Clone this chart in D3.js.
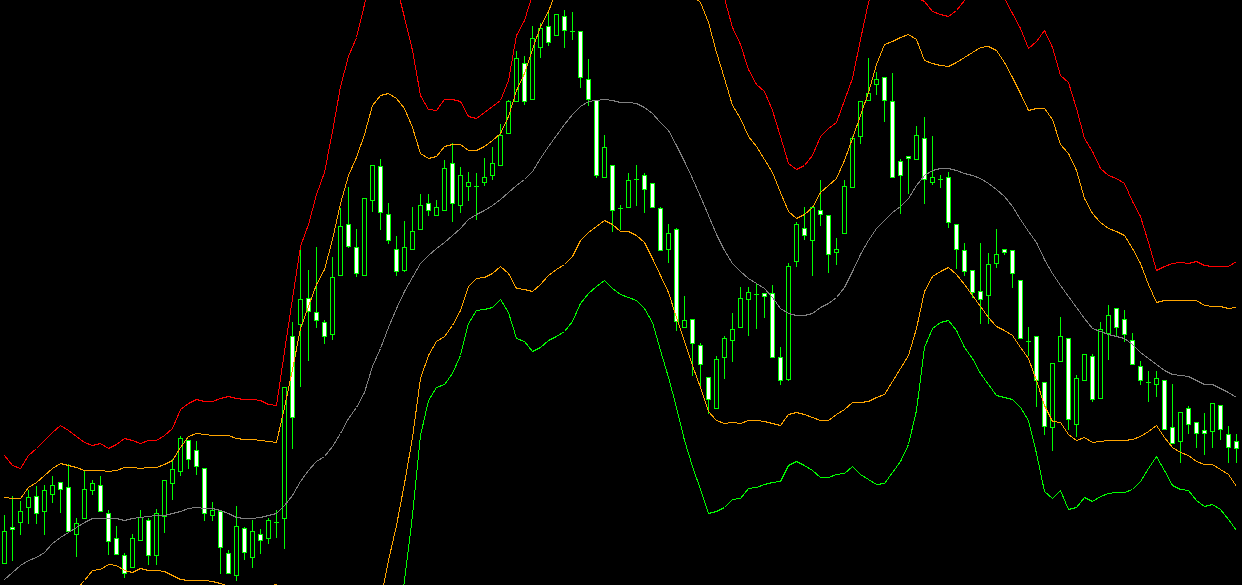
<!DOCTYPE html>
<html>
<head>
<meta charset="utf-8">
<script src="https://cdn.jsdelivr.net/npm/d3@7"></script>
<style>
  html, body { margin: 0; padding: 0; background: #000; overflow: hidden; }
</style>
</head>
<body>
<div id="chart"></div>
<script>
// price in points, one entry per bar (oldest first)
const open = [22,58,63,78,89,74,91,103,98,51, 67,95,100,72,47,30,18,45,65,30,
  69,102,114,145,135,117,70,74,32,10, 57,28,51,47,63,67,249,261,287,273,
  263,251,310,361,338,310,385,419,371,336, 315,336,356,382,370,375,422,380,399,399,
  403,410,420,452,484,522,486,538,559,550, 569,554,554,506,485,408,420,377,378,406,
  410,402,377,336,356,258,266,240,208,177, 228,245,258,286,291,292,292,228,206,324,
  357,345,375,370,333,352,398,449,485,501, 508,484,424,429,426,447,403,406,408,361,
  335,315,294,290,322,336,335,305,244,249, 203,158,224,247,161,205,229,187,252,277,
  266,245,219,203,201,205,158,144,177,163, 155,154,180,151,144];
const high = [70,89,84,95,99,100,109,103,121,67, 114,105,109,75,59,32,51,75,67,76,
  105,126,149,145,144,117,83,74,35,79, 58,65,56,67,75,198,263,336,315,338,
  265,328,377,398,356,387,420,426,382,349, 364,378,391,391,385,425,442,418,413,412,
  427,438,461,485,534,529,559,562,573,571, 575,573,554,526,485,450,420,380,412,420,
  412,402,378,361,357,289,266,242,208,229, 249,272,298,298,301,292,300,238,322,363,
  378,378,405,370,347,405,449,484,527,513, 508,512,426,429,459,468,449,410,413,361,
  342,315,342,332,356,336,335,305,258,249, 203,222,268,247,210,231,231,263,280,277,
  275,252,224,214,214,205,201,173,179,163, 172,182,180,159,151];
const low = [22,25,51,62,62,51,83,73,53,29, 67,91,74,31,31,8,18,45,21,21,
  53,86,110,117,111,65,65,12,12,5, 26,18,32,42,48,37,137,199,225,258,
  242,246,310,338,309,310,374,356,342,310, 314,336,356,370,370,375,364,373,385,366,
  400,406,420,452,484,481,486,528,540,550, 538,546,498,480,408,408,354,356,378,380,
  373,378,335,323,255,258,210,200,172,177, 207,224,258,250,257,268,228,201,205,319,
  346,310,360,313,321,352,398,442,485,491, 464,408,372,392,426,382,401,398,358,317,
  310,288,262,262,318,331,298,247,230,179, 151,135,224,156,149,205,184,187,226,249,
  244,221,201,184,189,156,142,123,152,138, 131,138,146,123,123];
const close = [54,56,74,88,72,95,100,96,54,62, 96,102,74,44,31,12,47,68,30,72,
  105,116,147,126,119,72,75,38,12,59, 33,54,45,65,63,198,168,286,274,265,
  249,308,359,339,312,387,420,373,345,314, 338,354,380,375,378,417,382,410,403,399,
  408,422,450,484,527,484,547,557,543,571, 555,554,508,486,410,438,375,377,405,406,
  396,378,335,352,264,265,242,221,186,226, 247,256,287,293,291,289,228,205,319,361,
  350,378,371,331,336,399,447,484,492,506, 485,408,410,427,450,406,408,406,363,336,
  314,293,286,321,331,333,312,247,244,205, 159,222,249,166,207,231,186,256,270,258,
  251,221,205,203,207,156,142,173,161,152, 152,182,156,138,137];

// envelope lines, same bars
const upperOuter = [130,120,117,130,137,145,153,160,155,149, 143,140,142,137,141,147,145,142,145,145,
  150,157,176,182,186,184,184,187,189,187, 186,186,185,181,180,234,287,339,361,391,
  413,454,499,529,548,581,615,635,625,600, 568,535,490,476,475,486,486,484,469,467,
  473,479,485,505,550,565,591,615,635,655, 670,680,685,685,680,675,670,665,660,655,
  650,645,640,635,630,625,617,609,601,593, 587,558,541,516,501,494,475,449,422,416,
  420,430,449,457,463,485,507,546,583,610, 625,620,605,593,588,584,574,571,569,575,
  585,597,603,600,593,587,572,557,537,544, 555,538,510,503,477,447,434,417,410,407,
  402,384,369,343,315,319,322,323,322,324, 320,319,319,319,324];
const upperInner = [88,87,87,98,103,110,117,122,120,118, 115,115,115,114,115,118,118,117,118,118,
  121,125,138,149,152,151,150,150,150,147, 146,146,145,144,143,178,216,257,279,301,
  316,346,382,410,428,451,480,490,492,487, 477,458,432,427,429,439,441,441,435,435,
  439,445,452,469,495,512,536,559,574,595, 610,620,625,627,625,623,620,617,615,613,
  610,607,605,603,600,595,590,583,563,533, 507,480,467,449,439,426,413,393,374,367,
  371,378,393,400,407,425,447,470,493,521, 541,544,548,551,546,525,522,520,519,523,
  528,533,538,539,535,523,508,492,475,477, 477,466,441,432,415,387,372,363,357,354,
  350,337,322,301,283,285,285,285,285,285, 280,279,279,277,278];
const middle = [6,13,20,25,28,33,42,48,53,58, 63,67,67,67,67,65,67,68,69,70,
  70,72,74,77,78,77,77,75,72,68, 67,67,68,70,72,80,90,104,115,124,
  129,139,152,167,178,193,219,237,258,277, 294,308,322,330,337,343,350,357,366,371,
  375,380,386,393,400,406,414,427,439,450, 461,471,479,484,485,486,485,483,483,482,
  478,472,463,455,440,424,407,389,370,351, 335,322,314,307,302,297,288,277,272,270,
  270,272,278,282,288,298,314,331,345,357, 365,373,379,387,400,410,415,417,417,415,
  412,410,407,402,396,389,379,366,354,343, 326,312,300,289,278,267,257,254,251,249,
  247,241,233,227,221,215,211,210,209,205, 201,201,197,193,188];
const lowerInner = [-30,-27,-23,-18,-15,-13,-11,-9,-7,-4, 5,15,16,21,20,15,13,17,15,15,
  14,10,6,5,5,5,4,2,-1,-3, -5,-5,-3,-1,1,-25,-55,-85,-105,-120,
  -130,-140,-145,-140,-125,-105,-65,-15,25,60, 102,148,207,230,244,249,260,275,299,307,
  308,312,319,312,297,296,294,301,310,316, 321,329,345,353,359,365,361,354,354,350,
  343,327,310,293,268,244,220,198,174,165, 162,163,162,165,165,164,162,160,171,173,
  171,168,165,165,171,176,183,183,184,188, 191,204,217,230,257,294,309,314,318,311,
  301,290,279,268,259,255,250,238,227,205, 180,164,163,151,145,148,143,144,145,145,
  145,146,149,154,160,148,138,133,130,124, 121,121,116,111,99];
const lowerOuter = [-72,-70,-66,-52,-45,-42,-38,-33,-32,-33, -23,-15,-12,-2,-6,-14,-14,-12,-12,-12,
  -15,-22,-32,-35,-29,-28,-30,-35,-40,-43, -45,-45,-43,-38,-36,-80,-125,-165,-190,-210,
  -225,-250,-265,-260,-245,-235,-200,-160,-105,-55, 5,70,150,185,198,201,212,230,262,275,
  276,278,286,273,247,244,234,238,245,249, 254,264,282,292,299,305,297,291,288,285,
  277,263,235,208,178,145,119,96,72,74, 78,86,87,97,98,101,103,104,120,124,
  120,115,108,108,111,112,119,111,106,101, 102,113,124,141,175,238,257,263,265,255,
  238,227,212,201,190,188,186,178,165,132, 94,87,95,76,78,88,84,89,92,93,
  93,96,104,117,129,115,100,96,95,85, 79,81,76,66,55];

const width = 1242;
const height = 585;

const x = d3.scaleLinear().domain([0, open.length - 1]).range([4, 4 + 8 * (open.length - 1)]);
const y = d3.scaleLinear().domain([0, 585]).range([height, 0]);
const px = v => Math.round(v) + 0.5;

const svg = d3.select("#chart")
  .append("svg")
  .attr("width", width)
  .attr("height", height)
  .style("display", "block")
  .style("background", "#000");

const bars = open.map((o, i) => ({ i, o, h: high[i], l: low[i], c: close[i] }));

// ---- candles ----
const g = svg.append("g").attr("shape-rendering", "crispEdges");

g.selectAll("line.wick")
  .data(bars)
  .join("line")
  .attr("class", "wick")
  .attr("x1", d => px(x(d.i)))
  .attr("x2", d => px(x(d.i)))
  .attr("y1", d => Math.round(y(d.h)))
  .attr("y2", d => Math.round(y(d.l)) + 1)
  .attr("stroke", "#00ff00")
  .attr("stroke-width", 1);

g.selectAll("rect.body")
  .data(bars.filter(d => d.o !== d.c))
  .join("rect")
  .attr("class", "body")
  .attr("x", d => Math.round(x(d.i)) - 1.5)
  .attr("width", 4)
  .attr("y", d => px(y(Math.max(d.o, d.c))))
  .attr("height", d => Math.round(y(Math.min(d.o, d.c))) - Math.round(y(Math.max(d.o, d.c))))
  .attr("fill", d => d.c < d.o ? "#ffffff" : "#000000")
  .attr("stroke", "#00ff00")
  .attr("stroke-width", 1);

g.selectAll("line.doji")
  .data(bars.filter(d => d.o === d.c))
  .join("line")
  .attr("class", "doji")
  .attr("x1", d => Math.round(x(d.i)) - 2)
  .attr("x2", d => Math.round(x(d.i)) + 3)
  .attr("y1", d => px(y(d.o)))
  .attr("y2", d => px(y(d.o)))
  .attr("stroke", "#00ff00")
  .attr("stroke-width", 1);

// ---- envelope lines ----
const line = d3.line()
  .x((d, i) => x(i) + 0.5)
  .y(d => y(d) + 0.5);

const bands = [
  { values: upperOuter, color: "#ff0000" },
  { values: upperInner, color: "#ffa500" },
  { values: middle, color: "#808080" },
  { values: lowerInner, color: "#ffa500" },
  { values: lowerOuter, color: "#00ff00" }
];

svg.append("g")
  .selectAll("path")
  .data(bands)
  .join("path")
  .attr("d", d => line(d.values))
  .attr("fill", "none")
  .attr("stroke", d => d.color)
  .attr("stroke-width", 1)
  .attr("shape-rendering", "crispEdges");
</script>
</body>
</html>
